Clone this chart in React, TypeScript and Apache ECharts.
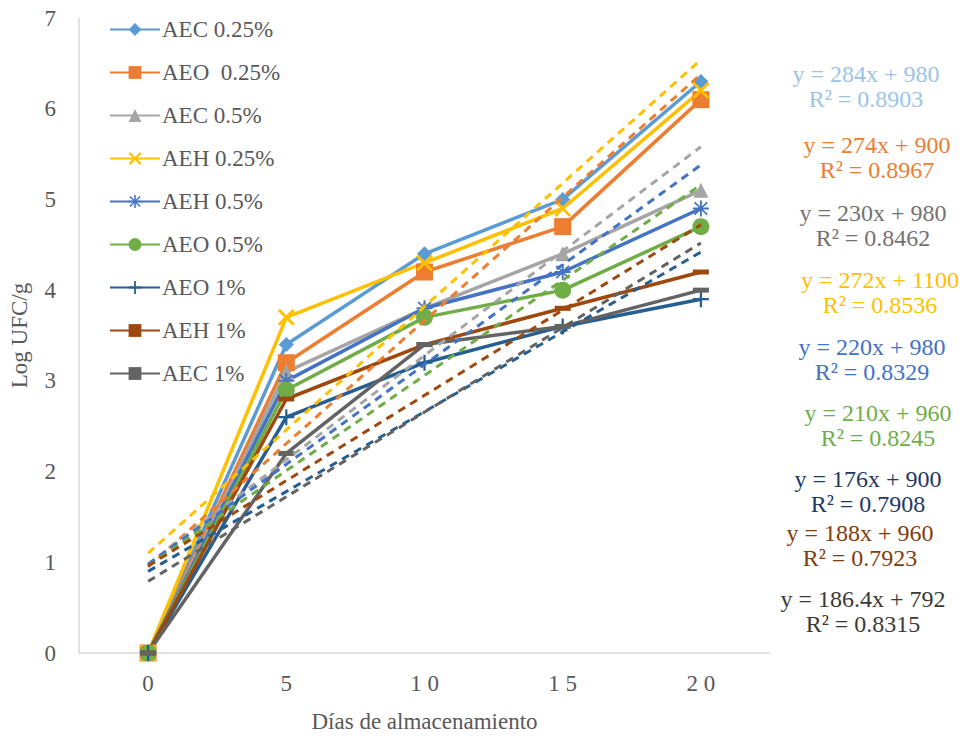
import React, { useEffect, useRef } from "react";
import * as echarts from "echarts";

const categories = ["0", "5", "10", "15", "20"];
const tickLabels = ["0", "5", "1 0", "1 5", "2 0"];

const seriesNames = [
  "AEC 0.25%",
  "AEO  0.25%",
  "AEC 0.5%",
  "AEH 0.25%",
  "AEH 0.5%",
  "AEO 0.5%",
  "AEO 1%",
  "AEH 1%",
  "AEC 1%",
];

const aec025 = [0, 3.4, 4.4, 5.0, 6.3];
const aeo025 = [0, 3.2, 4.2, 4.7, 6.1];
const aec05 = [0, 3.1, 3.8, 4.4, 5.1];
const aeh025 = [0, 3.7, 4.3, 4.9, 6.2];
const aeh05 = [0, 3.0, 3.8, 4.2, 4.9];
const aeo05 = [0, 2.9, 3.7, 4.0, 4.7];
const aeo1 = [0, 2.6, 3.2, 3.6, 3.9];
const aeh1 = [0, 2.8, 3.4, 3.8, 4.2];
const aec1 = [0, 2.2, 3.4, 3.6, 4.0];
const seriesValues = [aec025, aeo025, aec05, aeh025, aeh05, aeo05, aeo1, aeh1, aec1];

const seriesColors = ["#5B9BD5", "#ED7D31", "#A5A5A5", "#FFC000", "#4472C4", "#70AD47", "#255E91", "#9E480E", "#636363"];

const SYM_X = "path://M0,1.2L1.2,0L5,3.8L8.8,0L10,1.2L6.2,5L10,8.8L8.8,10L5,6.2L1.2,10L0,8.8L3.8,5Z";
const SYM_AST = "path://M4.4,0H5.6V3.6L8.6,0.8L9.4,1.6L6.2,4.4H10V5.6H6.2L9.4,8.4L8.6,9.2L5.6,6.4V10H4.4V6.4L1.4,9.2L0.6,8.4L3.8,5.6H0V4.4H3.8L0.6,1.6L1.4,0.8L4.4,3.6Z";
const SYM_PLUS = "path://M4.3,0H5.7V4.3H10V5.7H5.7V10H4.3V5.7H0V4.3H4.3Z";
const seriesSymbols = ["diamond", "rect", "triangle", SYM_X, SYM_AST, "circle", SYM_PLUS, "rect", "rect"];
const seriesSymbolSizes: any[] = [15, 17, 15, 17, 16, 17, 16, [16, 5], [16, 5]];

// Trend lines: value at day 0 and at day 20 (AEC 0.25% trend line not drawn)
const trendSeriesIdx = [1, 2, 3, 4, 5, 6, 7, 8];
const trendStart = [0.95, 0.98, 1.1, 0.98, 0.96, 0.9, 0.96, 0.79];
const trendEnd = [6.38, 5.58, 6.54, 5.38, 5.16, 4.42, 4.72, 4.52];

const eqLines = [
  "y = 284x + 980", "y = 274x + 900", "y = 230x + 980", "y = 272x + 1100", "y = 220x + 980",
  "y = 210x + 960", "y = 176x + 900", "y = 188x + 960", "y = 186.4x + 792",
];
const r2Lines = [
  "R² = 0.8903", "R² = 0.8967", "R² = 0.8462", "R² = 0.8536", "R² = 0.8329",
  "R² = 0.8245", "R² = 0.7908", "R² = 0.7923", "R² = 0.8315",
];
const eqColors = ["#9DC3E6", "#ED7D31", "#767171", "#FFC000", "#4472C4", "#70AD47", "#1F3864", "#843C0C", "#3A3A3A"];
const eqCenterX = [866, 877, 873, 880, 872, 878, 868, 860, 863];
const eqTopY = [74, 145, 213, 280, 347, 413, 479, 533, 599];

const FONT = "Liberation Serif, serif";

export default function App() {
  const ref = useRef<HTMLDivElement>(null);
  useEffect(() => {
    if (!ref.current) return;
    const chart = echarts.init(ref.current, undefined, { renderer: "svg" });

    const dataSeries = seriesNames.map((name, i) => ({
      name,
      type: "line",
      data: seriesValues[i],
      symbol: seriesSymbols[i],
      symbolSize: seriesSymbolSizes[i],
      showAllSymbol: true,
      lineStyle: { color: seriesColors[i], width: 3.5 },
      itemStyle: { color: seriesColors[i] },
      z: 3,
    }));

    const trendSeries = trendSeriesIdx.map((si, k) => ({
      name: seriesNames[si] + " trend",
      type: "line",
      data: [
        [categories[0], trendStart[k]],
        [categories[4], trendEnd[k]],
      ],
      symbol: "none",
      lineStyle: { color: seriesColors[si], width: 3, type: [8, 6] },
      silent: true,
      z: 4,
    }));

    const graphics: any[] = [];
    eqLines.forEach((t, i) => {
      graphics.push({
        type: "text",
        x: eqCenterX[i],
        y: eqTopY[i],
        style: { text: t, fill: eqColors[i], fontFamily: FONT, fontSize: 24, align: "center", verticalAlign: "middle" },
      });
      graphics.push({
        type: "text",
        x: eqCenterX[i],
        y: eqTopY[i] + 25,
        style: { text: r2Lines[i], fill: eqColors[i], fontFamily: FONT, fontSize: 24, align: "center", verticalAlign: "middle" },
      });
    });

    chart.setOption({
      animation: false,
      backgroundColor: "#ffffff",
      textStyle: { fontFamily: FONT },
      grid: { left: 76, right: 198, top: 18, bottom: 83, containLabel: false },
      legend: {
        data: seriesNames,
        orient: "vertical",
        left: 104,
        top: 13,
        itemWidth: 50,
        itemHeight: 16,
        itemGap: 20,
        textStyle: { fontFamily: FONT, fontSize: 23, color: "#595959", padding: [0, 0, 0, -3] },
      },
      xAxis: {
        type: "category",
        data: categories,
        boundaryGap: true,
        axisLine: { lineStyle: { color: "#D9D9D9", width: 1.5 } },
        axisTick: { show: false },
        axisLabel: {
          color: "#595959",
          fontSize: 23,
          fontFamily: FONT,
          margin: 19,
          formatter: (_v: string, idx: number) => tickLabels[idx],
        },
        splitLine: { show: false },
        name: "Días de almacenamiento",
        nameLocation: "middle",
        nameGap: 57,
        nameTextStyle: { color: "#595959", fontSize: 23, fontFamily: FONT },
      },
      yAxis: {
        type: "value",
        min: 0,
        max: 7,
        interval: 1,
        axisLine: { show: true, lineStyle: { color: "#D9D9D9", width: 1.5 } },
        axisTick: { show: false },
        splitLine: { show: false },
        axisLabel: { color: "#595959", fontSize: 23, fontFamily: FONT, margin: 23 },
        name: "Log UFC/g",
        nameLocation: "middle",
        nameGap: 48,
        nameRotate: 90,
        nameTextStyle: { color: "#595959", fontSize: 23, fontFamily: FONT },
      },
      series: [...dataSeries, ...trendSeries],
      graphic: graphics,
    });
    return () => chart.dispose();
  }, []);
  return <div ref={ref} style={{ width: 968, height: 738, margin: -8 }} />;
}
